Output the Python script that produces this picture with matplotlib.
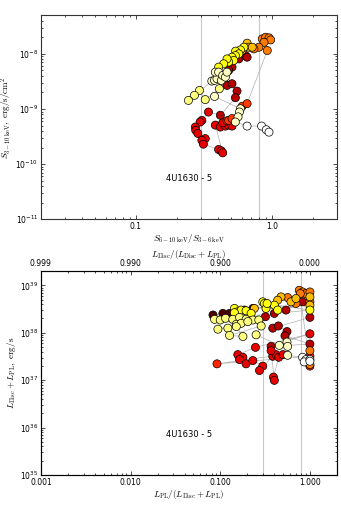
import numpy as np
import matplotlib
matplotlib.use("Agg")
import matplotlib.pyplot as plt
from matplotlib.ticker import FixedLocator, FixedFormatter, LogLocator, NullFormatter

plt.rcParams['font.family'] = ['DejaVu Sans']
plt.rcParams['mathtext.fontset'] = 'dejavusans'

source = "4U1630 - 5"

# --- top panel: hardness vs flux (points in time order, colour = time) ---
hr = [0.638, 0.656, 0.570, 0.508, 0.480, 0.467, 0.508, 0.553, 0.538, 0.417,
      0.341, 0.305, 0.296, 0.273, 0.275, 0.285, 0.323, 0.305, 0.313, 0.405,
      0.424, 0.434, 0.383, 0.417, 0.454, 0.480, 0.508, 0.434,
      0.467, 0.480, 0.508, 0.603, 0.656,
      0.923, 0.848, 0.898, 0.950, 0.977, 0.873, 0.801, 0.736,
      0.656, 0.676, 0.603, 0.715,
      0.621, 0.586, 0.540, 0.570, 0.538, 0.508, 0.523, 0.480, 0.467, 0.441, 0.405,
      0.410, 0.323, 0.293, 0.269, 0.243,
      0.361, 0.378, 0.394, 0.424, 0.383, 0.405, 0.434, 0.454, 0.467, 0.378,
      0.586, 0.576, 0.563, 0.538,
      0.656, 0.838, 0.908, 0.950]
flux = [9.3e-9, 8.7e-9, 8.1e-9, 5.74e-9, 5.0e-9, 2.68e-9, 2.87e-9, 2.11e-9, 1.60e-9, 7.7e-10,
        8.8e-10, 6.2e-10, 5.8e-10, 4.7e-10, 4.1e-10, 3.6e-10, 2.9e-10, 2.7e-10, 2.3e-10, 1.84e-10,
        1.74e-10, 1.6e-10, 5.1e-10, 4.7e-10, 4.9e-10, 5.1e-10, 4.9e-10, 5.6e-10,
        6.1e-10, 6.2e-10, 6.7e-10, 1.12e-9, 1.25e-9,
        1.15e-8, 1.87e-8, 2.0e-8, 1.95e-8, 1.79e-8, 1.62e-8, 1.32e-8, 1.23e-8,
        1.56e-8, 1.32e-8, 1.15e-8, 1.32e-8,
        1.32e-8, 1.18e-8, 1.12e-8, 1.0e-8, 9.3e-9, 8.7e-9, 7.6e-9, 7.1e-9, 8.1e-9, 6.6e-9, 5.74e-9,
        2.33e-9, 1.48e-9, 2.17e-9, 1.77e-9, 1.43e-9,
        3.21e-9, 3.30e-9, 3.54e-9, 3.30e-9, 4.66e-9, 4.66e-9, 4.06e-9, 3.79e-9, 4.66e-9, 1.69e-9,
        1.01e-9, 8.8e-10, 7.2e-10, 5.8e-10,
        4.9e-10, 4.9e-10, 4.2e-10, 3.8e-10]
t_top = [0.25] * 10 + [0.33] * 18 + [0.45] * 5 + [0.55] * 8 + [0.65] * 4 + \
        [0.76] * 11 + [0.87] * 5 + [0.94] * 14 + [1.0] * 4

# --- bottom panel: PL fraction vs total luminosity ---
fpl = [0.083, 0.107, 0.127, 0.151, 0.186, 0.231, 0.324,
       0.319, 0.401, 0.541, 0.829, 1.0, 0.385, 0.445, 0.555, 0.527, 1.0, 0.369,
       1.0, 0.247, 0.157, 0.179, 0.164, 0.194, 0.231, 0.298, 0.274, 0.385, 0.419,
       0.449, 0.392, 0.401, 0.369, 0.50,
       0.092, 1.0, 1.0,
       1.0, 1.0, 0.761, 0.829, 0.903, 0.781, 1.0, 1.0, 0.564, 0.699,
       0.615, 0.699, 0.476, 0.437, 1.0, 1.0, 0.240,
       0.144, 0.157, 0.171, 0.194, 0.144, 0.221, 0.298, 0.311, 0.324, 0.401, 0.437,
       0.333, 1.0,
       0.0865, 0.100, 0.1146, 0.138, 0.164, 0.194, 0.231, 0.269, 0.151, 0.171, 0.203,
       0.0942, 0.1216, 0.151, 0.179, 0.127, 0.286, 0.251,
       0.456, 0.555, 0.564, 0.564,
       0.829, 0.903, 0.865, 1.0, 1.0]
lum = [2.37e38, 2.56e38, 2.56e38, 2.78e38, 3.01e38, 3.26e38, 3.53e38,
       2.18e38, 2.56e38, 3.01e38, 4.49e38, 2.11e38, 1.25e38, 1.39e38, 1.06e38, 8.63e37, 5.78e37, 5.16e37,
       9.5e37, 4.92e37, 3.46e37, 3.04e37, 2.72e37, 2.21e37, 2.59e37, 1.98e37, 1.60e37, 3.19e37, 3.46e37,
       3.04e37, 1.16e37, 9.9e36, 4.19e37, 3.46e37,
       2.21e37, 3.19e37, 1.98e37,
       4.19e37, 2.14e37, 7.87e38, 7.26e38, 6.70e38, 6.70e38, 7.26e38, 4.49e38, 5.53e38, 4.14e38,
       4.49e38, 5.27e38, 5.71e38, 4.86e38, 5.71e38, 3.82e38, 3.26e38,
       3.26e38, 2.78e38, 3.01e38, 2.91e38, 2.65e38, 2.56e38, 4.49e38, 4.14e38, 3.26e38, 3.82e38, 3.01e38,
       4.14e38, 3.01e38,
       1.92e38, 1.86e38, 2.02e38, 1.92e38, 2.11e38, 1.92e38, 1.86e38, 1.86e38, 1.51e38, 1.58e38, 1.72e38,
       1.19e38, 1.25e38, 1.35e38, 8.35e37, 8.8e37, 1.39e38, 9.05e37,
       5.42e37, 6.36e37, 5.16e37, 3.35e37,
       3.04e37, 2.72e37, 2.43e37, 2.72e37, 2.51e37]
t_bot = [0.10] * 7 + [0.25] * 11 + [0.33] * 16 + [0.42] * 3 + [0.55] * 10 + \
        [0.65] * 7 + [0.76] * 13 + [0.87] * 18 + [0.94] * 4 + [1.0] * 5

vlines = [0.3, 0.8]

fig = plt.figure(figsize=(3.41, 5.11), dpi=100)
ax1 = fig.add_axes([0.120, 0.571, 0.868, 0.399])
ax2 = fig.add_axes([0.120, 0.0705, 0.868, 0.399])

lab = dict(fontsize=6.5, math_fontfamily='cm')
tick_fs = 5.5


def style(ax):
    ax.tick_params(which='both', direction='in', top=True, right=True,
                   labelsize=tick_fs, width=0.5, pad=2)
    ax.tick_params(which='major', length=3)
    ax.tick_params(which='minor', length=1.5)
    for s in ax.spines.values():
        s.set_linewidth(0.8)
        s.set_color('#333333')


def draw(ax, x, y, t):
    for v in vlines:
        ax.axvline(v, color='#c8c8c8', lw=0.8, zorder=1)
    ax.plot(x, y, '-', color='#b0b0b0', lw=0.5, zorder=2)
    ax.scatter(x, y, c=t, cmap='hot', vmin=0, vmax=1, s=34,
               edgecolors='black', linewidths=0.5, zorder=3)
    ax.text(0.5, 0.2, source, transform=ax.transAxes, ha='center',
            va='center', fontsize=6)


# top panel
draw(ax1, hr, flux, t_top)
ax1.set_xscale('log')
ax1.set_yscale('log')
ax1.set_xlim(0.02, 3.0)
ax1.set_ylim(1e-11, 5e-8)
ax1.xaxis.set_major_locator(FixedLocator([0.1, 1.0]))
ax1.xaxis.set_major_formatter(FixedFormatter(['0.1', '1.0']))
ax1.xaxis.set_minor_locator(LogLocator(subs=np.arange(2, 10)))
ax1.xaxis.set_minor_formatter(NullFormatter())
ax1.set_xlabel(r'$S_{6-10\,{\rm keV}}/S_{3-6\,{\rm keV}}$', labelpad=1, **lab)
ax1.set_ylabel(r'$S_{3-10\,{\rm keV}},\ {\rm erg/s/cm^2}$', labelpad=1, **lab)
style(ax1)

# bottom panel
draw(ax2, fpl, lum, t_bot)
ax2.set_xscale('log')
ax2.set_yscale('log')
ax2.set_xlim(0.001, 2.0)
ax2.set_ylim(1e35, 2e39)
xt = [0.001, 0.01, 0.1, 1.0]
ax2.xaxis.set_major_locator(FixedLocator(xt))
ax2.xaxis.set_major_formatter(FixedFormatter(['%.3f' % v for v in xt]))
ax2.xaxis.set_minor_formatter(NullFormatter())
ax2.set_xlabel(r'$L_{\rm PL}/(L_{\rm Disc}+L_{\rm PL})$', labelpad=1, **lab)
ax2.set_ylabel(r'$L_{\rm Disc}+L_{\rm PL},\ {\rm erg/s}$', labelpad=1, **lab)
style(ax2)
ax2.tick_params(top=False)

top = ax2.twiny()
top.set_xscale('log')
top.set_xlim(ax2.get_xlim())
top.xaxis.set_major_locator(FixedLocator(xt))
top.xaxis.set_major_formatter(FixedFormatter(['%.3f' % (1 - v) for v in xt]))
top.xaxis.set_minor_formatter(NullFormatter())
top.tick_params(which='both', direction='in', labelsize=tick_fs, width=0.5, pad=2)
top.tick_params(which='major', length=3)
top.tick_params(which='minor', length=1.5)
top.set_xlabel(r'$L_{\rm Disc}/(L_{\rm Disc}+L_{\rm PL})$', labelpad=2, **lab)

fig.savefig('out.png', dpi=100)
